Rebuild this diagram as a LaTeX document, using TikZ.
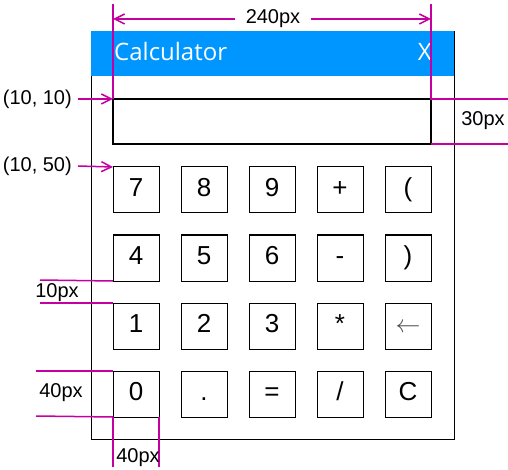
\documentclass[tikz,border=0pt]{standalone}
\usepackage{fontspec}
\setmainfont{Liberation Sans}
\newfontfamily\titlefont{Open Sans}
\usetikzlibrary{arrows.meta}
\definecolor{titleblue}{RGB}{0,150,255}
\definecolor{dimmag}{RGB}{196,0,160}
\begin{document}
\begin{tikzpicture}[x=1pt,y=-1pt,
  key/.style={draw=black, line width=1pt, minimum width=46pt, minimum height=46pt,
    inner sep=0pt, outer sep=0pt, font=\fontsize{26}{26}\selectfont,
    text height=18.6pt, text depth=5pt},
  dim/.style={draw=dimmag, line width=1.5pt},
  dimarrow/.style={dim, -{Straight Barb[length=10pt,width=10pt]}},
  dimlabel/.style={font=\fontsize{20}{24}\selectfont, inner sep=0pt}]
\useasboundingbox (0,0) rectangle (508,470);
% window
\fill[titleblue] (91,31) rectangle (454,76);
\draw[line width=1pt] (91,76) -- (91,439) -- (454,439) -- (454,31);
\node[anchor=west, text=white, inner sep=0pt, font=\titlefont\fontsize{24}{24}\selectfont] (title) at (114,52) {Calculator};
\node[anchor=east, text=white, inner sep=0pt, font=\titlefont\fontsize{24}{24}\selectfont] (close) at (432,52) {X};
% display
\node[draw=black, line width=2pt, minimum width=318pt, minimum height=45pt, inner sep=0pt, outer sep=0pt, anchor=north west] (display) at (113,99) {};
% keys
\node[key] (k7) at (136,190) {7};
\node[key] (k8) at (204,190) {8};
\node[key] (k9) at (272,190) {9};
\node[key] (kplus) at (340,190) {+};
\node[key] (klpar) at (408,190) {(};
\node[key] (k4) at (136,258) {4};
\node[key] (k5) at (204,258) {5};
\node[key] (k6) at (272,258) {6};
\node[key] (kminus) at (340,258) {-};
\node[key] (krpar) at (408,258) {)};
\node[key] (k1) at (136,326) {1};
\node[key] (k2) at (204,326) {2};
\node[key] (k3) at (272,326) {3};
\node[key] (kstar) at (340,326) {*};
\node[key, text=black!70, font=\fontsize{28}{28}\selectfont] (kback) at (408,326) {$\leftarrow$};
\node[key] (k0) at (136,394) {0};
\node[key] (kdot) at (204,394) {.};
\node[key] (keq) at (272,394) {=};
\node[key] (kslash) at (340,394) {/};
\node[key] (kclear) at (408,394) {C};
% dimension: 240px
\coordinate (tl) at (113,4);
\coordinate (tr) at (431,4);
\coordinate (r1) at (508,99);
\coordinate (r2) at (508,144);
\draw[dim] (tl) -- (display.north west);
\draw[dim] (tr) -- (display.north east) -- (r1);
\draw[dim] (display.south east) -- (r2);
\node[dimlabel, inner xsep=11pt] (w240) at (273,19) {240px};
\draw[dimarrow] (w240.west) -- (tl |- w240.west);
\draw[dimarrow] (w240.east) -- (tr |- w240.east);
\node[dimlabel] (h30) at (483,121) {30px};
% positions
\node[dimlabel, anchor=east] (p1010) at (72,99) {(10, 10)};
\draw[dimarrow] ([xshift=6pt]p1010.east) -- (display.north west);
\node[dimlabel, anchor=east] (p1050) at (72,166) {(10, 50)};
\draw[dimarrow] ([xshift=6pt]p1050.east) -- (k7.north west);
% 10px gap
\coordinate (g1) at (40,280);
\coordinate (g2) at (40,303);
\draw[dim] (g1) -- (k4.south west);
\draw[dim] (g2) -- (k1.north west);
\node[dimlabel] (gap10) at (57,293) {10px};
% 40px height
\coordinate (h1) at (36,371);
\coordinate (h2) at (36,416);
\draw[dim] (h1) -- (k0.north west);
\draw[dim] (h2) -- (k0.south west);
\node[dimlabel] (hgt40) at (61,393) {40px};
% 40px width
\coordinate (v1) at (113,467);
\coordinate (v2) at (159,467);
\draw[dim] (k0.south west) -- (v1);
\draw[dim] (k0.south east) -- (v2);
\node[dimlabel] (wid40) at (138,458) {40px};
\end{tikzpicture}
\end{document}
